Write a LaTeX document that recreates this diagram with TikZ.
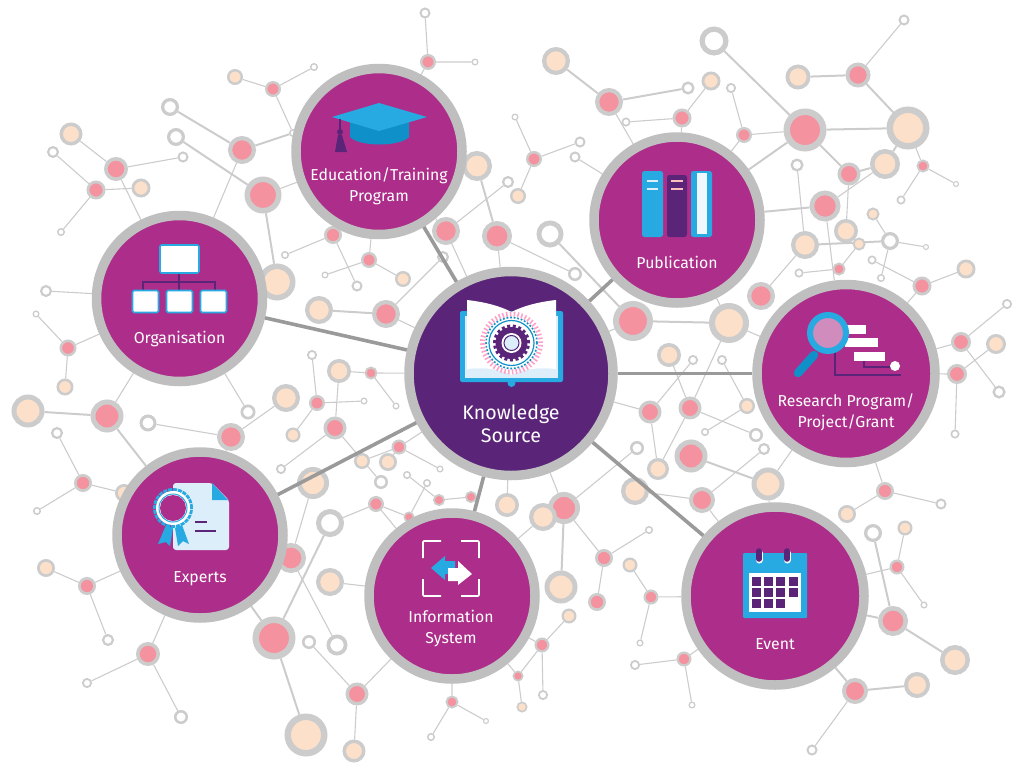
\documentclass[tikz,border=0pt]{standalone}
\usepackage{fontspec}
\setmainfont{Fira Sans}
\usetikzlibrary{backgrounds}

\definecolor{hubfill}{HTML}{AD2E8A}
\definecolor{deepfill}{HTML}{5A2478}
\definecolor{hubring}{HTML}{BFBFBF}
\definecolor{nodering}{HTML}{CCCCCC}
\definecolor{spokegray}{HTML}{9A9A9A}
\definecolor{pinkfill}{HTML}{F4939F}
\definecolor{peachfill}{HTML}{FDE0C9}
\definecolor{iconblue}{HTML}{27A9E1}
\definecolor{iconblued}{HTML}{1090C8}
\definecolor{palefill}{HTML}{DDEEFB}

\tikzset{
    pnk/.style={circle,draw=nodering,fill=pinkfill,inner sep=0pt,minimum size=0.85*#1pt,line width=0.15*#1pt},
    pch/.style={circle,draw=nodering,fill=peachfill,inner sep=0pt,minimum size=0.85*#1pt,line width=0.15*#1pt},
    opn/.style={circle,draw=nodering,fill=white,inner sep=0pt,minimum size=0.82*#1pt,line width=0.18*#1pt},
    hub/.style={circle,draw=hubring,fill=hubfill,inner sep=0pt,line width=9.5pt,minimum size=#1pt},
    lnk/.style={draw=nodering,line width=1.1pt},
    lnkm/.style={draw=nodering,line width=2pt},
    spoke/.style={draw=spokegray,line width=3.6pt},
    hubtext/.style={text=white,font=\fontsize{15.8}{21}\selectfont,align=center,inner sep=0pt},
    boxicon/.style={draw=iconblue,fill=white,line width=1.6pt,rounded corners=1.5pt},
    barline/.style={draw=deepfill,line width=1.6pt}
}

\begin{document}
\begin{tikzpicture}[x=1pt,y=-1pt]
    \useasboundingbox (0,0) rectangle (1024,771);

    % network, top left
    \node[opn=11] (w425) at (425,13) {};
    \node[pnk=16] (p428) at (428,62) {};
    \node[opn=7] (w475) at (475,62) {};
    \node[pch=16] (e235) at (235,77) {};
    \node[pnk=16] (p273) at (273,89) {};
    \node[opn=8] (w314) at (314,67) {};
    \node[opn=18] (w170) at (170,107) {};
    \node[opn=18] (w176) at (176,137) {};
    \node[opn=8] (w293) at (293,133) {};
    \node[pnk=28] (p242) at (242,150) {};
    \node[pnk=37] (p263) at (263,195) {};
    \node[pch=23] (e71) at (71,134) {};
    \node[opn=12] (w53) at (53,152) {};
    \node[pnk=24] (p116) at (116,169) {};
    \node[opn=11] (w183) at (183,157) {};
    \node[pnk=19] (p96) at (96,190) {};
    \node[pch=19] (e141) at (141,188) {};
    \node[opn=8] (w61) at (61,232) {};
    \node[pch=37] (e277) at (277,282) {};
    \node[opn=12] (w46) at (46,291) {};
    \node[opn=7] (w36) at (36,314) {};
    \node[pnk=17] (p68) at (68,348) {};
    \node[pch=17] (e65) at (65,387) {};
    \node[pnk=18] (p333) at (333,235) {};
    \node[opn=8] (w285) at (285,255) {};
    \node[pnk=16] (p369) at (369,260) {};
    \node[opn=7] (w325) at (325,275) {};
    \node[opn=11] (w357) at (357,286) {};
    \node[pch=16] (e403) at (403,279) {};
    \node[opn=12] (w443) at (443,257) {};
    \node[pch=28] (e319) at (319,310) {};
    \node[pnk=28] (p386) at (386,314) {};
    \node[pch=30] (e477) at (477,166) {};
    \node[pnk=28] (p446) at (446,231) {};
    \node[pnk=30] (p497) at (497,236) {};
    \node[opn=12] (w508) at (508,182) {};
    \node[opn=10] (w312) at (312,355) {};
    \node[pch=24] (e339) at (339,371) {};
    \node[pnk=13] (p371) at (371,373) {};

    % network, top right
    \node[pch=28] (e556) at (556,61) {};
    \node[pnk=28] (p609) at (609,102) {};
    \node[opn=13] (w688) at (688,88) {};
    \node[pch=19] (e711) at (711,81) {};
    \node[pnk=19] (p682) at (682,118) {};
    \node[opn=9] (w626) at (626,122) {};
    \node[opn=10] (w731) at (731,88) {};
    \node[pnk=16] (p744) at (744,135) {};
    \node[opn=29] (w714) at (714,41) {};
    \node[pnk=43] (p805) at (805,130) {};
    \node[pch=43] (e908) at (908,128) {};
    \node[pnk=25] (p858) at (858,75) {};
    \node[pch=25] (e798) at (798,77) {};
    \node[opn=11] (w904) at (904,20) {};
    \node[pnk=23] (p849) at (849,174) {};
    \node[pch=30] (e885) at (885,164) {};
    \node[pnk=13] (p923) at (923,166) {};
    \node[opn=6] (w956) at (956,184) {};
    \node[opn=9] (w901) at (901,200) {};
    \node[opn=13] (w797) at (797,165) {};
    \node[pnk=31] (p825) at (825,206) {};
    \node[pch=24] (e846) at (846,231) {};
    \node[pch=13] (e873) at (873,214) {};
    \node[opn=18] (w890) at (890,241) {};
    \node[pch=13] (e859) at (859,244) {};
    \node[opn=6] (w926) at (926,247) {};
    \node[pch=28] (e805) at (805,245) {};
    \node[opn=9] (w872) at (872,260) {};
    \node[opn=8] (w881) at (881,278) {};
    \node[opn=9] (w799) at (799,273) {};
    \node[pnk=13] (p839) at (839,269) {};
    \node[pnk=19] (p922) at (922,286) {};
    \node[pch=19] (e966) at (966,269) {};
    \node[pnk=28] (p761) at (761,296) {};
    \node[opn=10] (w1007) at (1007,304) {};
    \node[pnk=20] (p961) at (961,342) {};
    \node[pch=20] (e996) at (996,344) {};
    \node[pnk=20] (p957) at (957,374) {};
    \node[pnk=16] (p534) at (534,159) {};
    \node[opn=11] (w580) at (580,142) {};
    \node[opn=11] (w575) at (575,157) {};
    \node[opn=7] (w515) at (515,117) {};
    \node[pch=16] (e518) at (518,196) {};
    \node[opn=27] (w550) at (550,234) {};
    \node[opn=14] (w576) at (575,274) {};
    \node[pnk=40] (p633) at (633,321) {};
    \node[pch=40] (e729) at (729,323) {};
    \node[pch=24] (e669) at (669,355) {};
    \node[opn=10] (w693) at (693,360) {};
    \node[opn=10] (w722) at (722,360) {};

    % network, bottom left
    \node[pch=33] (e28) at (28,411) {};
    \node[pnk=33] (p107) at (107,416) {};
    \node[opn=17] (w148) at (148,423) {};
    \node[pnk=28] (p231) at (231,437) {};
    \node[opn=15] (w248) at (248,412) {};
    \node[pch=28] (e286) at (286,398) {};
    \node[pnk=16] (p317) at (317,403) {};
    \node[opn=7] (w364) at (364,401) {};
    \node[opn=7] (w396) at (396,406) {};
    \node[pnk=23] (p335) at (335,428) {};
    \node[pch=15] (e293) at (293,435) {};
    \node[opn=10] (w281) at (281,469) {};
    \node[pch=16] (e362) at (362,461) {};
    \node[pch=18] (e388) at (388,462) {};
    \node[pnk=15] (p399) at (399,447) {};
    \node[opn=7] (w440) at (440,469) {};
    \node[opn=14] (w381) at (381,482) {};
    \node[opn=8] (w407) at (407,475) {};
    \node[opn=8] (w427) at (427,483) {};
    \node[pnk=12] (p439) at (439,500) {};
    \node[pnk=12] (p471) at (471,497) {};
    \node[pch=24] (e507) at (507,505) {};
    \node[pnk=16] (p376) at (376,504) {};
    \node[pnk=11] (p409) at (409,517) {};
    \node[opn=28] (w330) at (330,523) {};
    \node[pch=32] (e313) at (313,483) {};
    \node[opn=12] (w57) at (57,433) {};
    \node[pnk=18] (p83) at (83,483) {};
    \node[opn=8] (w37) at (37,511) {};
    \node[pch=18] (e124) at (124,493) {};
    \node[pch=18] (e46) at (46,568) {};
    \node[pnk=18] (p87) at (87,586) {};
    \node[opn=12] (w108) at (108,640) {};
    \node[pnk=30] (p291) at (291,558) {};
    \node[pch=28] (e330) at (330,582) {};
    \node[pnk=43] (p274) at (274,638) {};
    \node[pnk=24] (p148) at (148,654) {};
    \node[opn=10] (w87) at (87,683) {};
    \node[opn=14] (w181) at (181,717) {};
    \node[opn=14] (w309) at (309,642) {};
    \node[opn=21] (w337) at (337,645) {};
    \node[pnk=23] (p357) at (357,694) {};
    \node[pch=43] (e306) at (306,735) {};
    \node[pch=23] (e354) at (354,751) {};
    \node[pnk=13] (p452) at (452,702) {};
    \node[opn=8] (w431) at (431,737) {};
    \node[opn=6] (w486) at (486,721) {};

    % network, bottom right
    \node[pnk=23] (p650) at (650,412) {};
    \node[pnk=23] (p690) at (690,408) {};
    \node[pch=16] (e747) at (747,406) {};
    \node[opn=8] (w705) at (705,432) {};
    \node[opn=14] (w756) at (756,435) {};
    \node[opn=14] (w637) at (637,448) {};
    \node[pch=22] (e658) at (658,469) {};
    \node[pnk=33] (p691) at (691,456) {};
    \node[opn=12] (w764) at (764,449) {};
    \node[pch=33] (e768) at (768,484) {};
    \node[pch=28] (e635) at (635,491) {};
    \node[pnk=26] (p702) at (702,500) {};
    \node[pnk=32] (p564) at (564,508) {};
    \node[pch=28] (e543) at (543,517) {};
    \node[pnk=18] (p604) at (604,558) {};
    \node[opn=8] (w649) at (649,530) {};
    \node[pch=15] (e630) at (630,565) {};
    \node[pch=33] (e561) at (561,587) {};
    \node[pnk=18] (p597) at (597,602) {};
    \node[pch=15] (e569) at (569,616) {};
    \node[pnk=15] (p651) at (651,597) {};
    \node[opn=7] (w640) at (640,643) {};
    \node[pnk=15] (p542) at (542,645) {};
    \node[pnk=11] (p518) at (518,676) {};
    \node[opn=10] (w543) at (543,695) {};
    \node[pch=11] (e522) at (522,707) {};
    \node[pnk=15] (p684) at (684,659) {};
    \node[opn=10] (w635) at (635,665) {};
    \node[opn=7] (w692) at (692,705) {};
    \node[pnk=18] (p885) at (885,491) {};
    \node[pch=18] (e847) at (847,514) {};
    \node[opn=11] (w941) at (941,504) {};
    \node[opn=18] (w873) at (873,533) {};
    \node[pch=15] (e905) at (905,528) {};
    \node[pnk=15] (p897) at (897,567) {};
    \node[opn=7] (w924) at (924,605) {};
    \node[pnk=30] (p893) at (893,621) {};
    \node[pch=30] (e955) at (955,660) {};
    \node[pnk=26] (p855) at (855,691) {};
    \node[pch=26] (e917) at (917,685) {};
    \node[opn=11] (w812) at (812,750) {};
    \node[opn=13] (w999) at (999,392) {};
    \node[opn=9] (w955) at (955,434) {};

    % hubs
    \node[hub=204,fill=deepfill] (know) at (511,373.5) {};
    \node[hub=166] (edu) at (379,151.5) {};
    \node[hub=166] (org) at (179.5,298.5) {};
    \node[hub=166] (pub) at (677,220) {};
    \node[hub=178] (res) at (846,373.5) {};
    \node[hub=166] (exp) at (200,535) {};
    \node[hub=166] (info) at (452,596) {};
    \node[hub=178] (event) at (775,596) {};

    \draw[spoke] (know) -- (edu);
    \draw[spoke] (know) -- (org);
    \draw[spoke] (know) -- (pub);
    \draw[spoke] (know) -- (res);
    \draw[spoke] (know) -- (exp);
    \draw[spoke] (know) -- (info);
    \draw[spoke] (know) -- (event);

    \begin{scope}[on background layer]
        \draw[lnk] (w425) -- (p428) -- (w475);
        \draw[lnk] (p428) -- (edu);
        \draw[lnk] (e235) -- (p273) -- (w314);
        \draw[lnk] (p273) -- (w293);
        \draw[lnkm] (w293) -- (p242);
        \draw[lnkm] (w170) -- (p242);
        \draw[lnkm] (w176) -- (p263);
        \draw[lnk] (p242) -- (org);
        \draw[lnk] (p263) -- (edu);
        \draw[lnkm] (p263) -- (e277);
        \draw[lnk] (e71) -- (p116) -- (w183);
        \draw[lnk] (w53) -- (p96) -- (e141);
        \draw[lnk] (p96) -- (w61);
        \draw[lnk] (p116) -- (org);
        \draw[lnk] (w46) -- (org);
        \draw[lnk] (w36) -- (p68) -- (org);
        \draw[lnk] (p68) -- (e65);
        \draw[lnk] (w285) -- (p333) -- (w357);
        \draw[lnk] (p333) -- (edu);
        \draw[lnk] (w325) -- (p369) -- (e403);
        \draw[lnk] (p369) -- (edu);
        \draw[lnkm] (e319) -- (p386);
        \draw[lnk] (p386) -- (w443);
        \draw[lnk] (p386) -- (know);
        \draw[lnk] (e477) -- (edu);
        \draw[lnkm] (e477) -- (p497);
        \draw[lnk] (p446) -- (w508);
        \draw[lnk] (p446) -- (edu);
        \draw[lnk] (p446) -- (know);
        \draw[lnk] (p497) -- (know);
        \draw[lnk] (p497) -- (w576);
        \draw[lnk] (w312) -- (p317);
        \draw[lnk] (e339) -- (p371) -- (know);
        \draw[lnk] (p371) -- (w396);
        \draw[lnk] (e339) -- (p335);

        \draw[lnkm] (e556) -- (p609);
        \draw[lnkm] (p609) -- (w688);
        \draw[lnk] (p609) -- (pub);
        \draw[lnk] (e711) -- (p682) -- (w626);
        \draw[lnk] (p682) -- (pub);
        \draw[lnk] (w731) -- (p744) -- (pub);
        \draw[lnkm] (w714) -- (p805);
        \draw[lnk] (p744) -- (p805);
        \draw[lnkm] (p805) -- (e908);
        \draw[lnkm] (p805) -- (pub);
        \draw[lnkm] (e798) -- (p858);
        \draw[lnk] (p858) -- (w904);
        \draw[lnkm] (p858) -- (e908);
        \draw[lnkm] (p805) -- (p849);
        \draw[lnkm] (e885) -- (e908);
        \draw[lnkm] (p849) -- (e885);
        \draw[lnk] (e885) -- (p825);
        \draw[lnk] (p923) -- (e908);
        \draw[lnk] (w956) -- (p923) -- (w901);
        \draw[lnk] (w797) -- (e805);
        \draw[lnkm] (pub) -- (p825);
        \draw[lnk] (e846) -- (p849);
        \draw[lnk] (p825) -- (res);
        \draw[lnkm] (e805) -- (w890);
        \draw[lnk] (e873) -- (w890) -- (w926);
        \draw[lnk] (e859) -- (p839) -- (w799);
        \draw[lnk] (w890) -- (w881);
        \draw[lnk] (w872) -- (p922) -- (e966);
        \draw[lnk] (p922) -- (res);
        \draw[lnk] (p761) -- (e805);
        \draw[lnk] (w580) -- (p534) -- (e518);
        \draw[lnk] (p534) -- (w515);
        \draw[lnk] (w575) -- (pub);
        \draw[lnkm] (w550) -- (p633);
        \draw[lnkm] (p633) -- (e729);
        \draw[lnk] (p633) -- (know);
        \draw[lnk] (e729) -- (res);
        \draw[lnk] (e729) -- (pub);
        \draw[lnk] (e729) -- (p690);
        \draw[lnk] (e669) -- (p690);
        \draw[lnk] (w693) -- (p650) -- (know);
        \draw[lnk] (w722) -- (e747) -- (w705);
        \draw[lnk] (p690) -- (w756);
        \draw[lnk] (p650) -- (e658) -- (p690);
        \draw[lnk] (w637) -- (p564);
        \draw[lnkm] (p691) -- (e768);
        \draw[lnk] (w764) -- (p702);
        \draw[lnk] (res) -- (e768);
        \draw[lnk] (e635) -- (p702);
        \draw[lnk] (e768) -- (event);
        \draw[lnk] (p702) -- (event);

        \draw[lnk] (know) -- (p564);
        \draw[lnk] (p564) -- (p604);
        \draw[lnkm] (p564) -- (e561);
        \draw[lnk] (e543) -- (info);
        \draw[lnk] (w649) -- (p604) -- (p597);
        \draw[lnk] (e630) -- (p651) -- (event);
        \draw[lnk] (p651) -- (w640);
        \draw[lnk] (e569) -- (p542) -- (info);
        \draw[lnk] (w543) -- (p542) -- (p518) -- (e522);
        \draw[lnk] (p518) -- (info);
        \draw[lnk] (w635) -- (p684) -- (event);
        \draw[lnk] (p684) -- (w692);
        \draw[lnk] (res) -- (p885) -- (e847);
        \draw[lnk] (p885) -- (w941);
        \draw[lnkm] (w873) -- (p893);
        \draw[lnk] (e905) -- (p897) -- (w924);
        \draw[lnk] (p897) -- (event);
        \draw[lnkm] (p893) -- (event);
        \draw[lnkm] (p893) -- (e955);
        \draw[lnkm] (event) -- (p855);
        \draw[lnkm] (p855) -- (e917);
        \draw[lnk] (p855) -- (w812);
        \draw[lnk] (e996) -- (p957);
        \draw[lnk] (w1007) -- (p961) -- (res);
        \draw[lnk] (p957) -- (res);
        \draw[lnk] (p961) -- (w999);
        \draw[lnk] (p957) -- (w955);

        \draw[lnkm] (e28) -- (p107);
        \draw[lnk] (p107) -- (org);
        \draw[lnkm] (p107) -- (exp);
        \draw[lnk] (w148) -- (p231) -- (exp);
        \draw[lnk] (p231) -- (e286);
        \draw[lnk] (w248) -- (org);
        \draw[lnk] (w57) -- (p83) -- (w37);
        \draw[lnk] (p83) -- (e124);
        \draw[lnk] (e46) -- (p87) -- (exp);
        \draw[lnk] (p87) -- (w108);
        \draw[lnk] (p148) -- (exp);
        \draw[lnk] (w87) -- (p148) -- (w181);
        \draw[lnkm] (exp) -- (p274);
        \draw[lnkm] (p274) -- (e306);
        \draw[lnkm] (p274) -- (w330);
        \draw[lnk] (e313) -- (p291);
        \draw[lnk] (p291) -- (w337);
        \draw[lnk] (w309) -- (p357) -- (info);
        \draw[lnk] (p357) -- (e354);
        \draw[lnk] (e330) -- (info);
        \draw[lnk] (w330) -- (p376) -- (info);
        \draw[lnk] (p376) -- (p409);
        \draw[lnk] (w364) -- (p317) -- (e293);
        \draw[lnk] (w281) -- (p335) -- (w381);
        \draw[lnk] (e362) -- (p399) -- (w440);
        \draw[lnk] (e388) -- (p399) -- (know);
        \draw[lnk] (w407) -- (p439) -- (p471);
        \draw[lnk] (w427) -- (p409);
        \draw[lnk] (e507) -- (know);
        \draw[lnk] (info) -- (p452) -- (w431);
        \draw[lnk] (p452) -- (w486);
    \end{scope}

    % book
    \fill[iconblue,rounded corners=2pt] (460,311) rectangle (563,382);
    \fill[iconblue] (511.5,383) circle (4pt);
    \fill[palefill] (465,316) -- (558,316) -- (558,378) -- (465,378) -- cycle;
    \fill[white] (467,300) .. controls (485,302) and (500,306) .. (511.5,312) .. controls (523,306) and (538,302) .. (556,300) -- (556,369) .. controls (538,367) and (523,369) .. (511.5,375) .. controls (500,369) and (485,367) .. (467,369) -- cycle;
    \draw[pink!85!magenta,line width=5pt,dash pattern=on 1.6pt off 2.2pt] (511.5,343) circle (29pt);
    \draw[iconblued,line width=1.6pt,dash pattern=on 1.8pt off 1.8pt] (511.5,343) circle (25.5pt);
    \draw[iconblued,line width=1.2pt] (511.5,343) circle (22.5pt);
    \draw[deepfill,line width=3pt,dash pattern=on 3pt off 2.6pt] (511.5,343) circle (17pt);
    \fill[deepfill] (511.5,343) circle (16pt);
    \fill[white] (511.5,343) circle (10pt);
    \draw[deepfill,fill=palefill,line width=1pt] (511.5,343) circle (7.5pt);

    % cap
    \fill[iconblued] (350,122) -- (409,122) -- (409,137) .. controls (400,147) and (359,147) .. (350,137) -- cycle;
    \fill[iconblue] (332,117) -- (379,103) -- (427,117) -- (379,131) -- cycle;
    \draw[deepfill,line width=2pt] (340,119) -- (340,132);
    \fill[deepfill] (340,132) circle (3pt);
    \fill[deepfill] (338,135) -- (342,135) -- (347,152) -- (335,152) -- cycle;

    % chart
    \draw[barline] (179,273) -- (179,290);
    \draw[barline] (143,290) -- (143,282) -- (215,282) -- (215,290);
    \draw[boxicon] (160,245) rectangle (199,273);
    \draw[boxicon] (132.5,290.5) rectangle (158.5,312.5);
    \draw[boxicon] (166.5,290.5) rectangle (192.5,312.5);
    \draw[boxicon] (200.5,290.5) rectangle (226.5,312.5);

    % books
    \fill[iconblue,rounded corners=2.5pt] (642,171) rectangle (663,237);
    \fill[deepfill,rounded corners=2.5pt] (667,175) rectangle (687,237);
    \fill[iconblue,rounded corners=2.5pt] (691,171) rectangle (712,237);
    \fill[palefill!40!white] (697,173) rectangle (707,234);
    \draw[palefill,line width=1.2pt] (647,181) -- (658,181) (647,189) -- (658,189);
    \draw[pink,line width=1.2pt] (671,181) -- (683,181) (671,189) -- (683,189);

    % magnifier
    \draw[deepfill,line width=1.4pt] (835,347) -- (835,375) -- (901,375);
    \draw[deepfill,line width=1.4pt] (864,361) -- (864,367) -- (895,367);
    \fill[white] (845,325) rectangle (866,334);
    \fill[white] (845,338) rectangle (878,347);
    \fill[white] (854,352) rectangle (885,361);
    \fill[white] (895,366) circle (5pt);
    \draw[iconblued,line width=8.5pt,line cap=round] (814,355) -- (798,373);
    \draw[iconblue,fill=white,fill opacity=0.45,line width=6pt] (828,333) circle (18pt);

    % certificate
    \fill[palefill,rounded corners=3pt] (173,483) -- (212,483) -- (229,500) -- (229,550) -- (173,550) -- cycle;
    \fill[iconblue] (212,483) -- (228,500) -- (212,500) -- cycle;
    \draw[barline] (195,522) -- (207,522);
    \draw[barline] (195,531) -- (216,531);
    \fill[iconblue] (166,525) -- (158,544) -- (166,542) -- (170,546) -- (173,528) -- cycle;
    \fill[iconblue] (175,528) -- (178,546) -- (183,541) -- (189,544) -- (182,525) -- cycle;
    \draw[iconblue,line width=3pt,dash pattern=on 4pt off 1pt] (173,508) circle (18.5pt);
    \fill[white] (173,508) circle (17pt);
    \fill[hubfill] (173,508) circle (13pt);
    \draw[iconblue,line width=1pt] (173,508) circle (14pt);

    % arrows
    \draw[white,line width=1.6pt,rounded corners=1pt] (423,558) -- (423,541) -- (441,541);
    \draw[white,line width=1.6pt,rounded corners=1pt] (461,541) -- (479,541) -- (479,558);
    \draw[white,line width=1.6pt,rounded corners=1pt] (423,579) -- (423,596) -- (441,596);
    \draw[white,line width=1.6pt,rounded corners=1pt] (461,596) -- (479,596) -- (479,579);
    \fill[iconblue] (431,568) -- (445,556) -- (445,561) -- (455,561) -- (455,574) -- (445,574) -- (445,580) -- cycle;
    \fill[white] (472,574) -- (458,561) -- (458,568) -- (448,568) -- (448,581) -- (458,581) -- (458,585) -- cycle;

    % calendar
    \fill[iconblue,rounded corners=1pt] (743,553) rectangle (807,618);
    \fill[white] (749,573) rectangle (801,612);
    \foreach \r/\c in {577/752,577/764,577/776,577/789,588/752,588/764,588/776,588/789,599/752,599/764,599/776}
        \fill[deepfill] (\c,\r) rectangle ++(8.5,8.5);
    \draw[white,line width=7pt,line cap=round] (759,553) -- (759,560);
    \draw[white,line width=7pt,line cap=round] (787,553) -- (787,560);
    \draw[deepfill,line width=5.5pt,line cap=round] (759,551) -- (759,559);
    \draw[deepfill,line width=5.5pt,line cap=round] (787,551) -- (787,559);

    % labels
    \node[hubtext,font=\fontsize{19.6}{23}\selectfont] (knowtext) at (511,423.5) {Knowledge\\Source};
    \node[hubtext] (edutext) at (379,186) {Education/Training\\Program};
    \node[hubtext] (orgtext) at (179.5,339.5) {Organisation};
    \node[hubtext] (pubtext) at (677,262) {Publication};
    \node[hubtext] (restext) at (846,412) {Research Program/\\Project/Grant};
    \node[hubtext] (exptext) at (200,579) {Experts};
    \node[hubtext] (infotext) at (451,628.5) {Information\\System};
    \node[hubtext] (eventtext) at (775,644) {Event};
\end{tikzpicture}
\end{document}
